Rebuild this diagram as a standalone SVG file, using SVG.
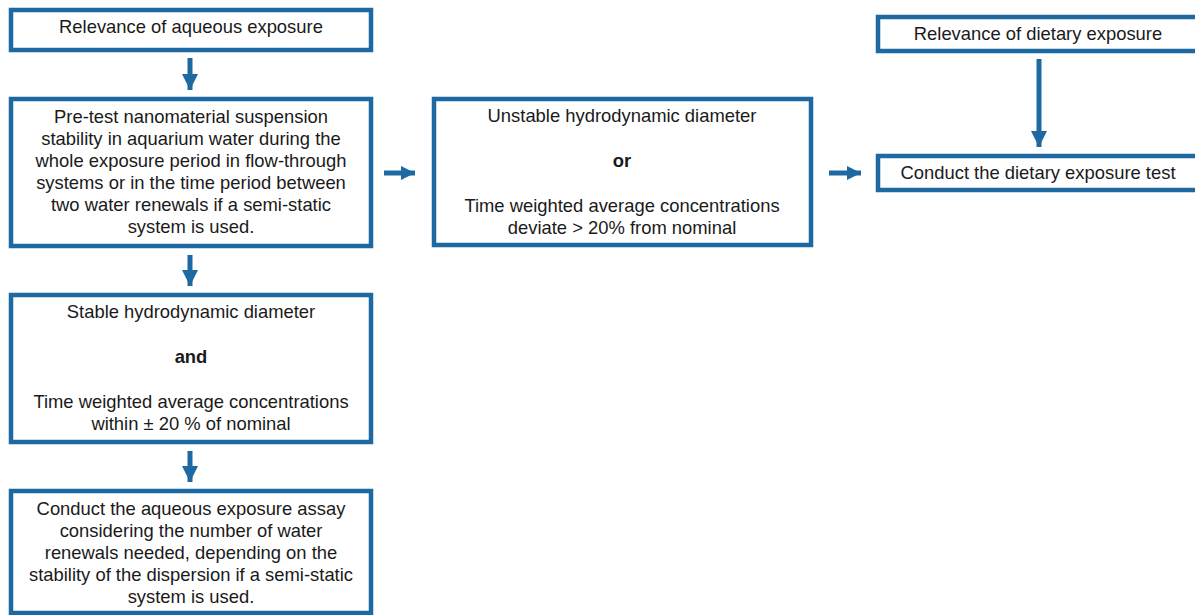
<svg xmlns="http://www.w3.org/2000/svg" width="1195" height="615" viewBox="0 0 1195 615">
  <style>
    .box { fill: #ffffff; stroke: #1F69A2; stroke-width: 4.5; }
    .t { font-family: "Liberation Sans", Arial, sans-serif; font-size: 18.4px; fill: #1a1a1a; text-anchor: middle; }
    .b { font-weight: bold; }
    .c { stroke: #1F69A2; stroke-width: 5; fill: none; }
    .ch { stroke: #1F69A2; stroke-width: 5; fill: none; }
  </style>
  <defs>
    <marker id="hv" markerUnits="userSpaceOnUse" markerWidth="16" markerHeight="16" refX="16" refY="8" orient="auto">
      <path d="M0,0 L16,8 L0,16 z" fill="#1F69A2"/>
    </marker>
    <marker id="hh" markerUnits="userSpaceOnUse" markerWidth="14" markerHeight="14" refX="14" refY="7" orient="auto">
      <path d="M0,0 L14,7 L0,14 z" fill="#1F69A2"/>
    </marker>
  </defs>
  <rect width="1195" height="615" fill="#ffffff"/>

  <g id="connectors">
    <line class="c" x1="190" y1="58" x2="190" y2="90" marker-end="url(#hv)"/>
    <line class="c" x1="190" y1="255" x2="190" y2="286" marker-end="url(#hv)"/>
    <line class="c" x1="190" y1="451" x2="190" y2="482" marker-end="url(#hv)"/>
    <line class="ch" x1="384" y1="173" x2="415" y2="173" marker-end="url(#hh)"/>
    <line class="ch" x1="829" y1="173" x2="861" y2="173" marker-end="url(#hh)"/>
    <line class="c" x1="1039" y1="59" x2="1039" y2="147" marker-end="url(#hv)"/>
  </g>

  <g id="aqueous-relevance">
    <rect class="box" x="11" y="10" width="360" height="40"/>
    <text class="t" x="191" y="33">Relevance of aqueous exposure</text>
  </g>

  <g id="pretest">
    <rect class="box" x="11" y="99" width="360" height="147"/>
    <text class="t" x="191" y="123">Pre-test nanomaterial suspension</text>
    <text class="t" x="191" y="145">stability in aquarium water during the</text>
    <text class="t" x="191" y="167">whole exposure period in flow-through</text>
    <text class="t" x="191" y="189">systems or in the time period between</text>
    <text class="t" x="191" y="211">two water renewals if a semi-static</text>
    <text class="t" x="191" y="233">system is used.</text>
  </g>

  <g id="unstable">
    <rect class="box" x="434" y="99" width="377" height="146"/>
    <text class="t" x="622" y="122">Unstable hydrodynamic diameter</text>
    <text class="t b" x="622" y="167">or</text>
    <text class="t" x="622" y="212">Time weighted average concentrations</text>
    <text class="t" x="622" y="234">deviate &gt; 20% from nominal</text>
  </g>

  <g id="stable">
    <rect class="box" x="11" y="295" width="360" height="147"/>
    <text class="t" x="191" y="318">Stable hydrodynamic diameter</text>
    <text class="t b" x="191" y="363">and</text>
    <text class="t" x="191" y="408">Time weighted average concentrations</text>
    <text class="t" x="191" y="430">within ± 20 % of nominal</text>
  </g>

  <g id="aqueous-assay">
    <rect class="box" x="11" y="491" width="360" height="122"/>
    <text class="t" x="191" y="515">Conduct the aqueous exposure assay</text>
    <text class="t" x="191" y="537">considering the number of water</text>
    <text class="t" x="191" y="559">renewals needed, depending on the</text>
    <text class="t" x="191" y="581">stability of the dispersion if a semi-static</text>
    <text class="t" x="191" y="603">system is used.</text>
  </g>

  <g id="dietary-relevance">
    <rect class="box" x="878" y="17" width="322" height="34"/>
    <text class="t" x="1038" y="40">Relevance of dietary exposure</text>
  </g>

  <g id="dietary-test">
    <rect class="box" x="878" y="156" width="322" height="34"/>
    <text class="t" x="1038" y="179">Conduct the dietary exposure test</text>
  </g>
</svg>
